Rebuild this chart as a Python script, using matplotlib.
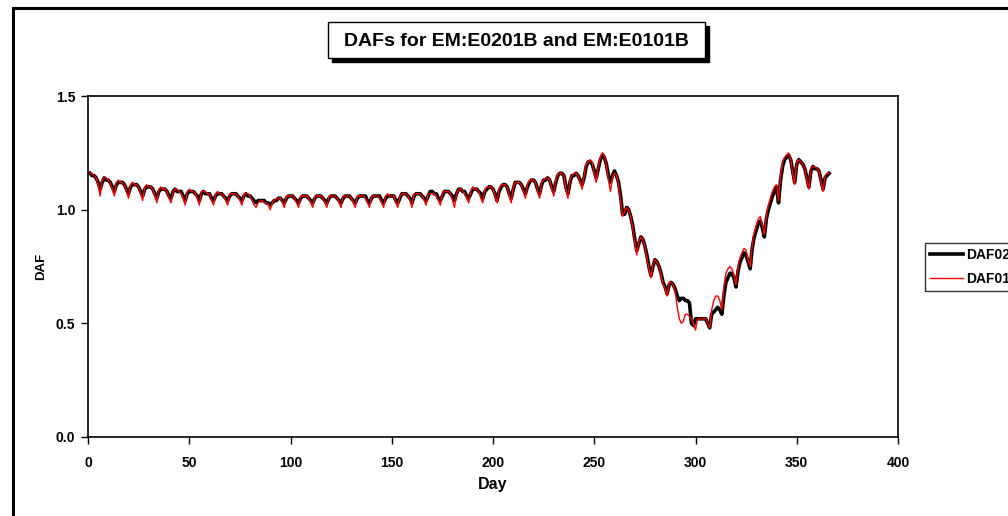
import numpy as np
import matplotlib
matplotlib.use("Agg")
import matplotlib.pyplot as plt
from matplotlib.patches import Rectangle

plt.rcParams['font.family'] = ['Liberation Sans', 'DejaVu Sans']
plt.rcParams['font.weight'] = 'bold'

# day numbers 1..366
days = np.arange(1, 367)

# DAF for EM:E0201B, one row per week
daf02 = [
    1.16, 1.15, 1.15, 1.14, 1.12, 1.09, 1.12,
    1.14, 1.13, 1.13, 1.12, 1.10, 1.08, 1.11,
    1.12, 1.12, 1.12, 1.11, 1.09, 1.07, 1.10,
    1.11, 1.11, 1.11, 1.10, 1.08, 1.06, 1.09,
    1.10, 1.10, 1.10, 1.09, 1.07, 1.05, 1.08,
    1.09, 1.09, 1.09, 1.08, 1.06, 1.05, 1.08,
    1.09, 1.08, 1.08, 1.08, 1.06, 1.04, 1.07,
    1.08, 1.08, 1.08, 1.07, 1.06, 1.04, 1.07,
    1.08, 1.07, 1.07, 1.07, 1.05, 1.04, 1.06,
    1.07, 1.07, 1.07, 1.06, 1.05, 1.04, 1.06,
    1.07, 1.07, 1.07, 1.06, 1.05, 1.04, 1.06,
    1.07, 1.06, 1.06, 1.05, 1.04, 1.03, 1.04,
    1.04, 1.04, 1.04, 1.03, 1.03, 1.02, 1.03,
    1.04, 1.04, 1.05, 1.05, 1.04, 1.03, 1.05,
    1.06, 1.06, 1.06, 1.05, 1.04, 1.03, 1.05,
    1.06, 1.06, 1.06, 1.05, 1.04, 1.03, 1.05,
    1.06, 1.06, 1.06, 1.05, 1.04, 1.03, 1.05,
    1.06, 1.06, 1.06, 1.05, 1.04, 1.03, 1.05,
    1.06, 1.06, 1.06, 1.05, 1.04, 1.03, 1.05,
    1.06, 1.06, 1.06, 1.06, 1.04, 1.03, 1.05,
    1.06, 1.06, 1.06, 1.06, 1.04, 1.03, 1.05,
    1.06, 1.06, 1.06, 1.06, 1.04, 1.03, 1.05,
    1.07, 1.07, 1.07, 1.06, 1.05, 1.03, 1.06,
    1.07, 1.07, 1.07, 1.06, 1.05, 1.04, 1.06,
    1.08, 1.08, 1.07, 1.07, 1.05, 1.04, 1.06,
    1.08, 1.08, 1.08, 1.07, 1.06, 1.04, 1.07,
    1.09, 1.09, 1.08, 1.08, 1.06, 1.05, 1.07,
    1.09, 1.09, 1.09, 1.08, 1.07, 1.05, 1.08,
    1.09, 1.10, 1.10, 1.09, 1.07, 1.04, 1.08,
    1.10, 1.11, 1.11, 1.10, 1.07, 1.05, 1.09,
    1.12, 1.12, 1.12, 1.11, 1.09, 1.07, 1.10,
    1.12, 1.13, 1.13, 1.12, 1.09, 1.07, 1.11,
    1.13, 1.13, 1.14, 1.13, 1.10, 1.08, 1.12,
    1.15, 1.16, 1.16, 1.15, 1.10, 1.07, 1.12,
    1.15, 1.15, 1.16, 1.15, 1.13, 1.11, 1.14,
    1.19, 1.21, 1.21, 1.20, 1.17, 1.14, 1.18,
    1.22, 1.24, 1.23, 1.20, 1.15, 1.12, 1.15,
    1.17, 1.15, 1.12, 1.06, 0.98, 0.98, 1.01,
    1.00, 0.97, 0.93, 0.87, 0.82, 0.85, 0.88,
    0.87, 0.84, 0.80, 0.75, 0.71, 0.75, 0.78,
    0.77, 0.75, 0.72, 0.68, 0.66, 0.63, 0.67,
    0.68, 0.67, 0.65, 0.62, 0.60, 0.61, 0.61,
    0.60, 0.60, 0.59, 0.50, 0.49, 0.52, 0.52,
    0.52, 0.52, 0.52, 0.52, 0.50, 0.48, 0.54,
    0.55, 0.56, 0.57, 0.56, 0.54, 0.62, 0.68,
    0.70, 0.72, 0.72, 0.70, 0.66, 0.73, 0.77,
    0.79, 0.81, 0.80, 0.77, 0.74, 0.83, 0.88,
    0.91, 0.94, 0.95, 0.92, 0.88, 0.96, 1.00,
    1.03, 1.06, 1.08, 1.10, 1.03, 1.13, 1.19,
    1.22, 1.23, 1.24, 1.22, 1.17, 1.12, 1.20,
    1.22, 1.21, 1.20, 1.18, 1.14, 1.10, 1.17,
    1.19, 1.18, 1.18, 1.17, 1.13, 1.09, 1.14,
    1.15, 1.16,
]

# DAF for EM:E0101B
daf01 = [
    1.16, 1.16, 1.15, 1.14, 1.11, 1.06, 1.13,
    1.14, 1.14, 1.13, 1.12, 1.09, 1.06, 1.12,
    1.13, 1.12, 1.12, 1.11, 1.08, 1.05, 1.11,
    1.12, 1.11, 1.11, 1.10, 1.07, 1.04, 1.10,
    1.11, 1.10, 1.10, 1.09, 1.06, 1.03, 1.09,
    1.10, 1.09, 1.09, 1.08, 1.05, 1.03, 1.08,
    1.09, 1.09, 1.08, 1.07, 1.05, 1.02, 1.08,
    1.09, 1.08, 1.08, 1.07, 1.05, 1.02, 1.08,
    1.08, 1.08, 1.07, 1.07, 1.04, 1.02, 1.07,
    1.08, 1.07, 1.07, 1.06, 1.04, 1.02, 1.07,
    1.07, 1.07, 1.07, 1.06, 1.04, 1.02, 1.07,
    1.07, 1.07, 1.06, 1.04, 1.02, 1.01, 1.03,
    1.04, 1.04, 1.03, 1.03, 1.02, 1.00, 1.03,
    1.04, 1.05, 1.05, 1.05, 1.03, 1.01, 1.06,
    1.06, 1.06, 1.06, 1.05, 1.03, 1.01, 1.06,
    1.06, 1.06, 1.06, 1.05, 1.03, 1.01, 1.06,
    1.06, 1.06, 1.06, 1.05, 1.03, 1.01, 1.06,
    1.06, 1.06, 1.06, 1.05, 1.03, 1.01, 1.06,
    1.06, 1.06, 1.06, 1.05, 1.03, 1.01, 1.06,
    1.06, 1.06, 1.06, 1.05, 1.03, 1.01, 1.06,
    1.06, 1.06, 1.06, 1.05, 1.03, 1.01, 1.06,
    1.07, 1.06, 1.06, 1.06, 1.03, 1.01, 1.06,
    1.07, 1.07, 1.07, 1.06, 1.04, 1.01, 1.07,
    1.07, 1.07, 1.07, 1.06, 1.04, 1.02, 1.07,
    1.07, 1.07, 1.07, 1.06, 1.04, 1.02, 1.07,
    1.08, 1.08, 1.08, 1.07, 1.04, 1.01, 1.07,
    1.09, 1.09, 1.08, 1.07, 1.05, 1.03, 1.08,
    1.10, 1.09, 1.09, 1.08, 1.05, 1.03, 1.09,
    1.10, 1.10, 1.10, 1.09, 1.06, 1.03, 1.09,
    1.11, 1.11, 1.11, 1.10, 1.06, 1.03, 1.10,
    1.12, 1.12, 1.12, 1.11, 1.08, 1.05, 1.11,
    1.13, 1.13, 1.13, 1.12, 1.08, 1.05, 1.12,
    1.13, 1.14, 1.14, 1.13, 1.09, 1.06, 1.13,
    1.16, 1.16, 1.16, 1.15, 1.09, 1.05, 1.13,
    1.15, 1.16, 1.16, 1.15, 1.12, 1.09, 1.15,
    1.20, 1.21, 1.22, 1.21, 1.16, 1.12, 1.19,
    1.23, 1.25, 1.24, 1.20, 1.13, 1.08, 1.14,
    1.16, 1.15, 1.11, 1.04, 0.97, 0.99, 1.01,
    1.00, 0.97, 0.92, 0.86, 0.80, 0.86, 0.88,
    0.87, 0.84, 0.79, 0.74, 0.70, 0.76, 0.78,
    0.77, 0.75, 0.71, 0.67, 0.65, 0.62, 0.68,
    0.68, 0.67, 0.64, 0.57, 0.52, 0.50, 0.51,
    0.54, 0.54, 0.53, 0.52, 0.50, 0.47, 0.52,
    0.52, 0.52, 0.52, 0.52, 0.50, 0.48, 0.56,
    0.60, 0.62, 0.62, 0.60, 0.56, 0.66, 0.72,
    0.74, 0.75, 0.74, 0.71, 0.67, 0.75, 0.79,
    0.81, 0.83, 0.82, 0.78, 0.75, 0.84, 0.90,
    0.93, 0.96, 0.97, 0.93, 0.89, 0.98, 1.02,
    1.05, 1.08, 1.10, 1.11, 1.04, 1.15, 1.21,
    1.23, 1.24, 1.25, 1.22, 1.16, 1.11, 1.21,
    1.22, 1.21, 1.20, 1.18, 1.13, 1.09, 1.18,
    1.19, 1.19, 1.18, 1.17, 1.12, 1.08, 1.15,
    1.16, 1.16,
]

series_labels = ["DAF0201B", "DAF0101B"]
x_ticks = [0, 50, 100, 150, 200, 250, 300, 350, 400]
y_ticks = [0.0, 0.5, 1.0, 1.5]

W, H = 1008, 516
fig = plt.figure(figsize=(W / 100, H / 100), dpi=100)


def fx(px):
    return px / W


def fy(py):
    return 1 - py / H


# outer chart border (only left and top visible in the crop)
fig.patches.append(Rectangle((fx(13), fy(560)), 1.2, fy(8) - fy(560),
                             transform=fig.transFigure, fill=False,
                             ec='black', lw=2.2, zorder=0))

ax = fig.add_axes([fx(88), fy(437), fx(898) - fx(88), fy(96) - fy(437)])
ax.plot(days, daf02, color='black', lw=2.6, label=series_labels[0], zorder=2)
ax.plot(days, daf01, color='red', lw=1.0, label=series_labels[1], zorder=3)

ax.set_xlim(0, 400)
ax.set_ylim(0, 1.5)
ax.set_xticks(x_ticks)
ax.set_yticks(y_ticks)
ax.set_yticklabels([f"{v:.1f}" for v in y_ticks])
ax.tick_params(direction='out', length=5, width=1, labelsize=10)
ax.tick_params(axis='x', pad=9)
ax.tick_params(axis='y', pad=4)
for lab in ax.get_xticklabels() + ax.get_yticklabels():
    lab.set_fontweight('bold')
for s in ax.spines.values():
    s.set_linewidth(1.2)
ax.set_xlabel("Day", fontsize=11.5, fontweight='bold', va='center')
ax.xaxis.set_label_coords(0.5, (437 - 485) / 341)
ax.set_ylabel("DAF", fontsize=9.5, fontweight='bold', va='center')
ax.yaxis.set_label_coords((41 - 88) / 810, 0.5)

# title box with drop shadow
bx0, by0, bx1, by1 = 328, 22, 705, 58
fig.patches.append(Rectangle((fx(bx0 + 4), fy(by1 + 4)), fx(bx1 - bx0), fy(by0) - fy(by1),
                             transform=fig.transFigure, fc='black', ec='black', zorder=1))
fig.patches.append(Rectangle((fx(bx0), fy(by1)), fx(bx1 - bx0), fy(by0) - fy(by1),
                             transform=fig.transFigure, fc='white', ec='black', lw=1, zorder=2))
fig.text(fx((bx0 + bx1) / 2), fy((by0 + by1) / 2 + 1), "DAFs for EM:E0201B and EM:E0101B",
         ha='center', va='center', fontsize=14, fontweight='bold', zorder=3)

leg = fig.legend(loc='upper left', bbox_to_anchor=(fx(925), fy(243)),
                 bbox_transform=fig.transFigure, frameon=True, fancybox=False,
                 edgecolor='black', handlelength=2.4, handletextpad=0.2,
                 labelspacing=0.75, borderpad=0.35, borderaxespad=0,
                 prop={'weight': 'bold', 'size': 10})
leg.get_frame().set_linewidth(1)

fig.savefig("out.png", dpi=100)
